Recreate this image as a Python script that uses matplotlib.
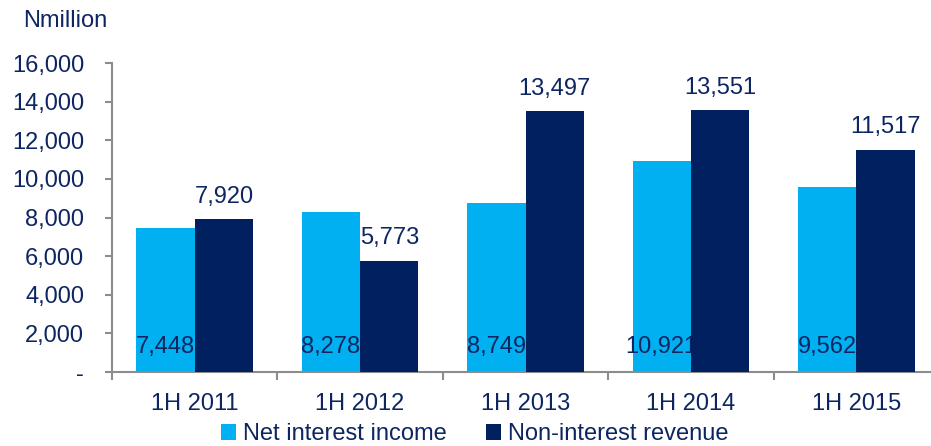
import matplotlib.pyplot as plt
import numpy as np

plt.rcParams['font.family'] = ['Liberation Sans', 'DejaVu Sans']

# data
periods = ['1H 2011', '1H 2012', '1H 2013', '1H 2014', '1H 2015']
net_interest = [7448, 8278, 8749, 10921, 9562]
non_interest = [7920, 5773, 13497, 13551, 11517]
y_ticks = [0, 2000, 4000, 6000, 8000, 10000, 12000, 14000, 16000]

light = '#00b0f0'
dark = '#002060'
txt = '#0d2561'
grey = '#8c8c8c'

fig = plt.figure(figsize=(9.31, 4.46), dpi=100)
ax = fig.add_axes([0.1203, 0.1659, 0.8883, 0.6928])

x = np.arange(len(periods))
w = 0.353
ax.bar(x - w / 2, net_interest, w, color=light, zorder=1, label='Net interest income')
ax.bar(x + w / 2, non_interest, w, color=dark, zorder=3, label='Non-interest revenue')

# light labels sit at the base, partly hidden behind the dark bars
for xi, v in zip(x, net_interest):
    ax.text(xi - w / 2, 1300, f'{v:,}', ha='center', va='center',
            fontsize=17, color=txt, zorder=2)
for xi, v in zip(x, non_interest):
    ax.annotate(f'{v:,}', (xi + w / 2, v), xytext=(0, 8), textcoords='offset points',
                ha='center', va='bottom', fontsize=17, color=txt)

ax.set_xlim(-0.5, len(periods) - 0.5)
ax.set_ylim(0, 16000)
ax.set_yticks(y_ticks)
ax.set_yticklabels(['-' if t == 0 else f'{t:,}' for t in y_ticks])
ax.set_xticks(x)
ax.set_xticklabels(periods)
ax.set_xticks(np.arange(-0.5, len(periods)), minor=True)

for s in ['top', 'right']:
    ax.spines[s].set_visible(False)
for s in ['left', 'bottom']:
    ax.spines[s].set_color(grey)
    ax.spines[s].set_linewidth(1.5)

ax.tick_params(axis='y', colors=grey, labelcolor=txt, labelsize=17, length=5, width=1.5, pad=15)
ax.tick_params(axis='x', which='major', length=0, labelcolor=txt, labelsize=17, pad=15)
ax.tick_params(axis='x', which='minor', length=6, width=1.5, color=grey)

fig.text(0.025, 0.952, 'Nmillion', fontsize=17, color=txt, ha='left', va='center')

fig.legend(loc='lower center', bbox_to_anchor=(0.510, -0.046), ncol=2, frameon=False,
           fontsize=17, labelcolor=txt, handlelength=0.65, handleheight=0.65,
           handletextpad=0.3, columnspacing=1.65)

fig.savefig('out.png', dpi=100)
